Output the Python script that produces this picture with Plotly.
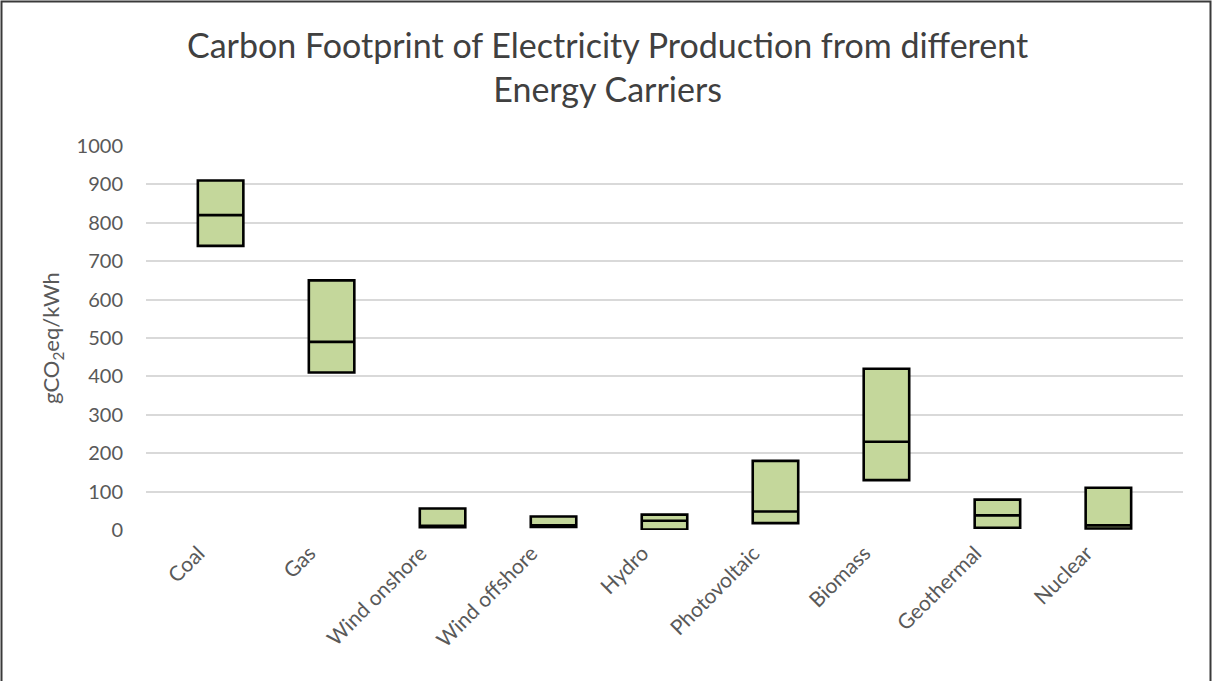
import plotly.graph_objects as go

# Life-cycle emissions per energy carrier (gCO2eq/kWh): min, median, max
carriers = ["Coal", "Gas", "Wind onshore", "Wind offshore", "Hydro",
            "Photovoltaic", "Biomass", "Geothermal", "Nuclear"]
low = [740, 410, 7, 8, 1, 18, 130, 6, 4]
median = [820, 490, 11, 12, 24, 48, 230, 38, 12]
high = [910, 650, 56, 35, 40, 180, 420, 79, 110]

y_ticks = [0, 100, 200, 300, 400, 500, 600, 700, 800, 900, 1000]

TITLE = "Carbon Footprint of Electricity Production from different<br>Energy Carriers"

FONT = "Lato"
GREY = "#595959"

fig = go.Figure()
fig.add_trace(go.Box(
    x=carriers,
    q1=low,
    median=median,
    q3=high,
    lowerfence=low,
    upperfence=high,
    width=0.41,
    whiskerwidth=0,
    fillcolor="#C4D79B",
    line=dict(color="#000000", width=2.6),
    boxpoints=False,
    showlegend=False,
))

# plot area in pixels: x 146..1183, y 146..530
L, R, T, B = 146, 1212 - 1183, 146, 681 - 530
PW, PH = 1212 - L - R, 681 - T - B


def px_x(px):
    return (px - L) / PW


def px_y(py):
    return (681 - B - py) / PH


fig.update_layout(
    width=1212,
    height=681,
    margin=dict(l=L, r=R, t=T, b=B),
    paper_bgcolor="white",
    plot_bgcolor="white",
    font=dict(family=FONT, color=GREY),
    xaxis=dict(
        type="category",
        tickangle=-45,
        tickfont=dict(family=FONT, size=21, color=GREY),
        ticklabelshift=-22,
        ticklabelstandoff=6,
        showgrid=False,
        showline=False,
        ticks="",
        zeroline=False,
    ),
    yaxis=dict(
        range=[0, 1000],
        tickvals=y_ticks,
        ticktext=[str(v) for v in y_ticks],
        tickfont=dict(family=FONT, size=20, color=GREY),
        showgrid=True,
        gridcolor="#D9D9D9",
        gridwidth=2,
        zeroline=False,
        showline=False,
        ticks="",
        ticklabelstandoff=22,
        title=dict(
            text="gCO<sub>2</sub>eq/kWh",
            font=dict(family=FONT, size=22, color=GREY),
            standoff=10,
        ),
    ),
    annotations=[
        dict(text=TITLE, xref="paper", yref="paper",
             x=px_x(607), y=px_y(66), xanchor="center", yanchor="middle",
             showarrow=False, align="center",
             font=dict(family=FONT, size=34, color="#404040")),
    ],
    shapes=[
        dict(type="rect", xref="paper", yref="paper",
             x0=px_x(1.5), x1=px_x(1210.5), y0=px_y(700), y1=px_y(1.5),
             line=dict(color="#3a3a3a", width=2), fillcolor="rgba(0,0,0,0)",
             layer="above"),
    ],
)

fig.write_html("out.html")
